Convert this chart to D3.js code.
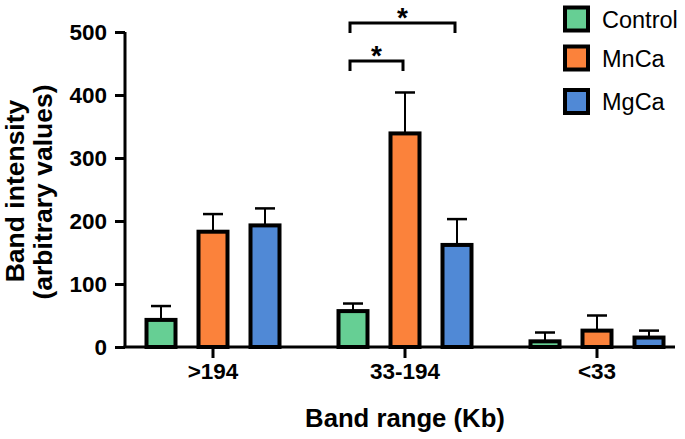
<!DOCTYPE html>
<html><head><meta charset="utf-8">
<script src="https://cdn.jsdelivr.net/npm/d3@7"></script>
<style>html,body{margin:0;padding:0;background:#fff}svg{display:block;font-family:"Liberation Sans",Arial,sans-serif}</style>
</head><body>
<svg id="c" width="685" height="439"></svg>
<script>
const categories = [">194", "33-194", "<33"];
const seriesNames = ["Control", "MnCa", "MgCa"];
const seriesColors = ["#66cf94", "#fb823b", "#5089d6"];
const controlMean = [43, 57, 9];
const controlErr = [65, 69, 23];
const mncaMean = [183, 339, 26];
const mncaErr = [211, 404, 50];
const mgcaMean = [193, 162, 15];
const mgcaErr = [220, 203, 26];
const yTicks = [0, 100, 200, 300, 400, 500];
const yTitle1 = "Band intensity";
const yTitle2 = "(arbitrary values)";
const xTitle = "Band range (Kb)";
// significance brackets: [category, fromSeries, toSeries, level]
const sigs = [["33-194", "Control", "MgCa", 0], ["33-194", "Control", "MnCa", 1]];

const means = [controlMean, mncaMean, mgcaMean];
const errs = [controlErr, mncaErr, mgcaErr];

const svg = d3.select("#c");
const y = d3.scaleLinear().domain([0, 500]).range([347, 32]);
const x0 = d3.scaleBand().domain(categories).range([117, 693]).padding(0);
const x1 = d3.scaleBand().domain(seriesNames).range([18, 174]).padding(0);
const barW = 29;
const cx = (c, s) => x0(c) + x1(s) + x1.bandwidth() / 2;

// bars
seriesNames.forEach((s, si) => {
  categories.forEach((c, ci) => {
    const v = means[si][ci], e = errs[si][ci];
    const xc = cx(c, s);
    svg.append("line").attr("x1", xc).attr("x2", xc)
      .attr("y1", y(v)).attr("y2", y(e)).attr("stroke", "#000").attr("stroke-width", 2);
    svg.append("line").attr("x1", xc - 10).attr("x2", xc + 10)
      .attr("y1", y(e)).attr("y2", y(e)).attr("stroke", "#000").attr("stroke-width", 2.5);
    svg.append("rect").attr("x", xc - barW / 2).attr("y", y(v))
      .attr("width", barW).attr("height", y(0) - y(v))
      .attr("fill", seriesColors[si]).attr("stroke", "#000").attr("stroke-width", 4);
  });
});

// y axis
const yAxis = svg.append("g").attr("transform", "translate(125,0)")
  .call(d3.axisLeft(y).tickValues(yTicks).tickSize(10).tickPadding(8));
yAxis.select(".domain").attr("stroke-width", 3).attr("d", "M0,32V347");
yAxis.selectAll(".tick line").attr("stroke-width", 3);
yAxis.selectAll(".tick text").attr("font-size", 22.5).attr("font-weight", "bold")
  .attr("fill", "#000").attr("font-family", "Liberation Sans, Arial, sans-serif");

// x axis
const xAxis = svg.append("g").attr("transform", "translate(0,347)")
  .call(d3.axisBottom(x0).tickSize(11).tickPadding(5));
xAxis.select(".domain").attr("stroke-width", 3).attr("d", "M123.5,0H675");
xAxis.selectAll(".tick line").attr("stroke-width", 3);
xAxis.selectAll(".tick text").attr("font-size", 22.5).attr("font-weight", "bold")
  .attr("fill", "#000").attr("font-family", "Liberation Sans, Arial, sans-serif");

// titles
svg.append("text").attr("transform", "translate(24,191) rotate(-90)")
  .attr("text-anchor", "middle").attr("font-size", 26.5).attr("font-weight", "bold").text(yTitle1);
svg.append("text").attr("transform", "translate(52,192) rotate(-90)")
  .attr("text-anchor", "middle").attr("font-size", 26.5).attr("font-weight", "bold").text(yTitle2);
svg.append("text").attr("x", 405).attr("y", 427)
  .attr("text-anchor", "middle").attr("font-size", 25.7).attr("font-weight", "bold").text(xTitle);

// significance
sigs.forEach(([c, a, b, lvl]) => {
  const xa = cx(c, a) - 3, xb = cx(c, b) - 2;
  const yb = lvl === 0 ? 23 : 61;
  svg.append("path").attr("d", `M${xa},${yb + 10}V${yb}H${xb}V${yb + 10}`)
    .attr("fill", "none").attr("stroke", "#000").attr("stroke-width", 3);
  svg.append("text").attr("x", (xa + xb) / 2).attr("y", yb + 3.5)
    .attr("text-anchor", "middle").attr("font-size", 28).attr("font-weight", "bold").text("*");
});

// legend
const legY = [19, 58, 101.5];
seriesNames.forEach((s, i) => {
  svg.append("rect").attr("x", 565).attr("y", legY[i] - 11.5).attr("width", 23).attr("height", 23)
    .attr("fill", seriesColors[i]).attr("stroke", "#000").attr("stroke-width", 4);
  svg.append("text").attr("x", 602).attr("y", legY[i] + 8.5)
    .attr("font-size", 23.5).attr("fill", "#000").text(s);
});
</script>
</body></html>
